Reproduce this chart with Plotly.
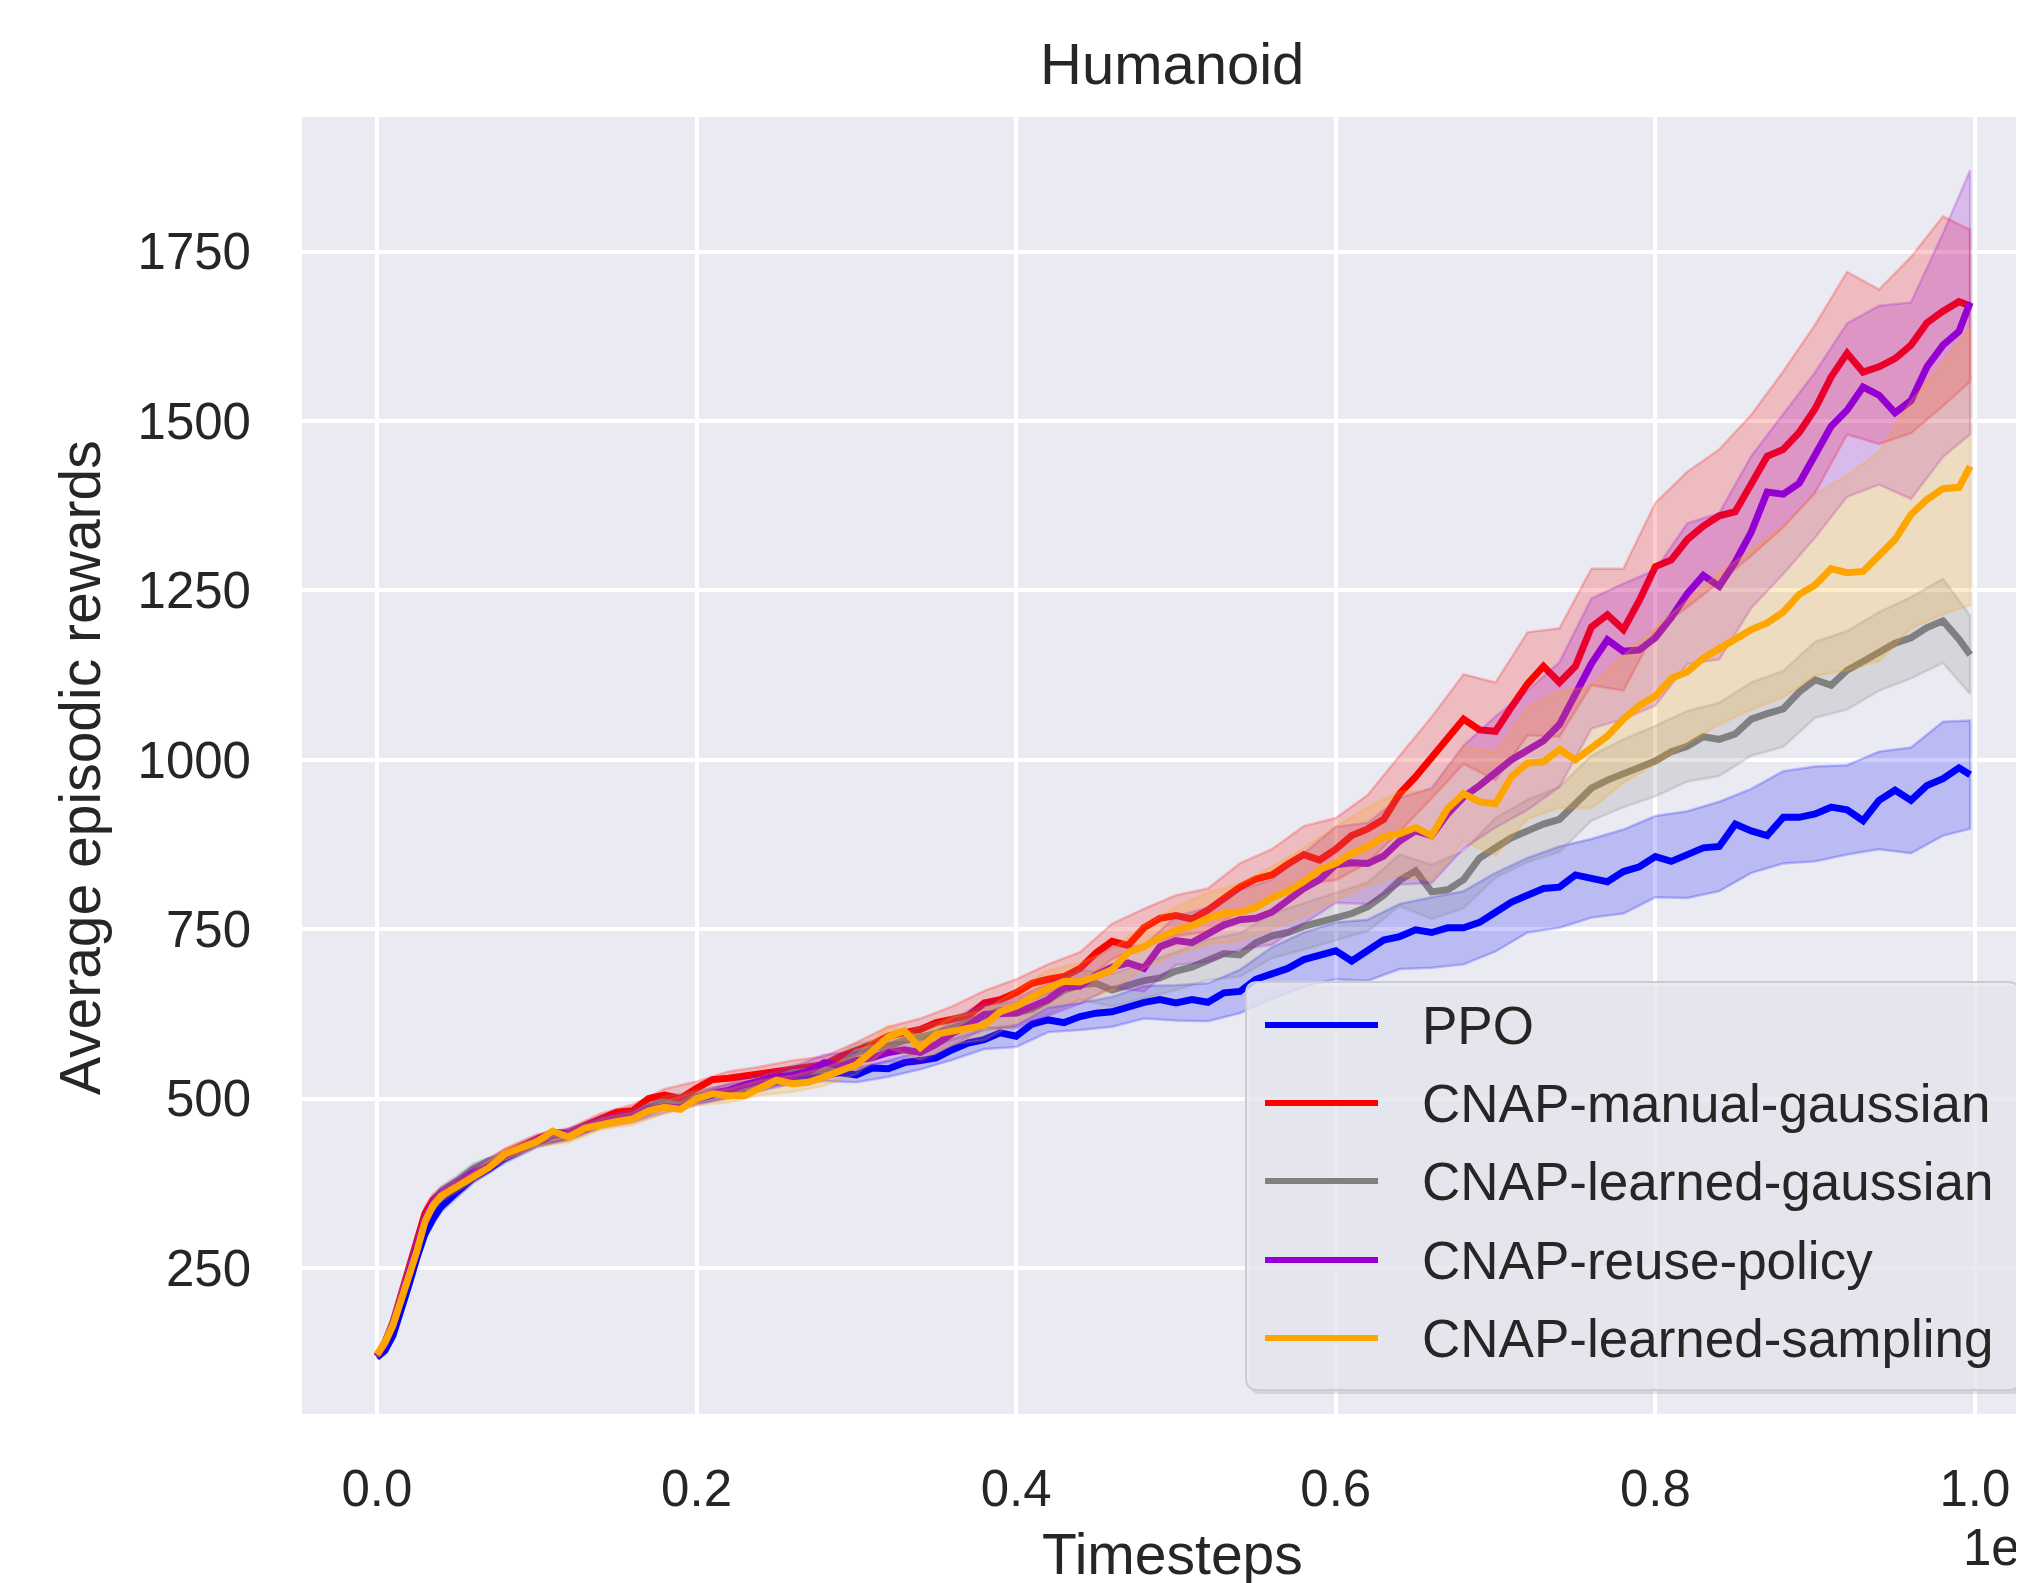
import plotly.graph_objects as go

# ---------------- data ----------------
# timesteps in thousands (axis shown in units of 1e6)
T_K = [0, 5, 10, 15, 20, 25, 30, 35, 40,
       50, 60, 70, 80, 90, 100, 110, 120, 130, 140,
       150, 160, 170, 180, 190, 200, 210, 220, 230, 240,
       250, 260, 270, 280, 290, 300, 310, 320, 330, 340,
       350, 360, 370, 380, 390, 400, 410, 420, 430, 440,
       450, 460, 470, 480, 490, 500, 510, 520, 530, 540,
       550, 560, 570, 580, 590, 600, 610, 620, 630, 640,
       650, 660, 670, 680, 690, 700, 710, 720, 730, 740,
       750, 760, 770, 780, 790, 800, 810, 820, 830, 840,
       850, 860, 870, 880, 890, 900, 910, 920, 930, 940,
       950, 960, 970, 980, 990, 997]

PPO = [118, 128, 150, 185, 225, 265, 300, 322, 340,
       362, 382, 396, 412, 424, 434, 446, 448, 456, 464,
       470, 476, 486, 492, 494, 500, 505, 508, 514, 520,
       524, 530, 532, 536, 538, 535, 545, 544, 553, 556,
       560, 572, 582, 587, 597, 592, 610, 616, 612, 621,
       626, 628, 636, 642, 646, 641, 646, 642, 656, 658,
       676, 685, 692, 705, 712, 718, 703, 719, 734, 739,
       749, 745, 752, 752, 760, 775, 790, 800, 810, 812,
       830, 825, 820, 835, 842, 857, 850, 860, 870, 872,
       905, 895, 888, 915, 915, 920, 930, 926, 910, 940,
       955, 940, 962, 972, 988, 978]

MANUAL = [120, 140, 170, 210, 250, 292, 330, 350, 360,
          374, 388, 400, 418, 430, 440, 450, 448, 460, 470,
          480, 482, 500, 505, 500, 515, 528, 530, 533, 536,
          539, 544, 547, 550, 562, 570, 580, 592, 596, 602,
          612, 618, 622, 641, 646, 656, 670, 676, 680, 692,
          715, 732, 726, 752, 766, 770, 765, 778, 796, 812,
          824, 830, 846, 860, 852, 868, 888, 898, 912, 950,
          975, 1003, 1028, 1060, 1044, 1042, 1078, 1112, 1138, 1114,
          1138, 1196, 1214, 1192, 1235, 1285, 1295, 1325, 1345, 1360,
          1366, 1405, 1448, 1458, 1483, 1518, 1565, 1600, 1572, 1580,
          1592, 1612, 1645, 1662, 1676, 1670]

LEARNED_GAUSS = [120, 140, 168, 205, 245, 285, 322, 345, 362,
                 378, 396, 408, 414, 424, 436, 448, 446, 458, 464,
                 468, 474, 488, 494, 490, 502, 508, 510, 516, 522,
                 530, 538, 540, 542, 550, 568, 574, 577, 586, 590,
                 596, 604, 612, 620, 630, 626, 632, 645, 660, 668,
                 670, 660, 668, 674, 678, 688, 694, 705, 714, 712,
                 730, 740, 745, 754, 760, 768, 773, 783, 800, 822,
                 836, 805, 808, 823, 855, 870, 885, 895, 905, 912,
                 935, 958, 970, 980, 990, 998, 1012, 1020, 1034, 1030,
                 1038, 1060, 1068, 1075, 1100, 1118, 1110, 1132, 1145, 1160,
                 1172, 1180, 1195, 1205, 1178, 1155]

REUSE = [120, 138, 165, 205, 245, 285, 322, 346, 360,
         374, 390, 400, 416, 426, 438, 450, 447, 456, 466,
         470, 474, 484, 488, 486, 500, 508, 512, 520, 526,
         532, 534, 540, 553, 548, 556, 560, 568, 572, 568,
         580, 596, 608, 624, 626, 626, 636, 646, 664, 666,
         682, 694, 700, 692, 724, 733, 730, 742, 756, 764,
         766, 775, 792, 810, 823, 845, 848, 847, 858, 880,
         895, 888, 920, 945, 962, 982, 1000, 1014, 1028, 1052,
         1095, 1142, 1177, 1160, 1162, 1180, 1210, 1245, 1272, 1256,
         1292, 1336, 1395, 1392, 1408, 1450, 1492, 1516, 1550, 1538,
         1512, 1530, 1580, 1612, 1632, 1675]

SAMPLING = [122, 140, 165, 200, 235, 275, 318, 342, 356,
            370, 384, 398, 418, 426, 436, 452, 443, 456, 462,
            466, 470, 482, 487, 484, 500, 507, 504, 504, 516,
            527, 522, 524, 532, 540, 550, 570, 591, 600, 575,
            595, 600, 604, 608, 628, 636, 650, 663, 673, 672,
            680, 690, 716, 724, 738, 748, 755, 766, 773, 775,
            782, 796, 806, 820, 838, 847, 862, 872, 886, 891,
            900, 888, 928, 950, 938, 935, 975, 995, 997, 1015,
            1000, 1018, 1035, 1060, 1080, 1094, 1120, 1130, 1150, 1164,
            1178, 1192, 1202, 1218, 1244, 1258, 1282, 1276, 1278, 1300,
            1325, 1362, 1384, 1400, 1402, 1433]

# shaded spread (half width) sampled on a coarser grid
BAND_T_K = [0, 5, 10, 15, 20, 25, 30, 35, 40, 50, 60,
            80, 100, 120, 140, 160, 180, 200, 220, 240, 260,
            280, 300, 320, 340, 360, 380, 400, 420, 440, 460,
            480, 500, 520, 540, 560, 580, 600, 620, 640, 660,
            680, 700, 720, 740, 760, 780, 800, 820, 840, 860,
            880, 900, 920, 940, 960, 980, 997]

PPO_STD = [3, 4, 5, 6, 7, 8, 8, 8, 8, 8, 7,
           7, 6, 7, 6, 7, 8, 7, 8, 9, 8,
           10, 11, 12, 13, 15, 14, 16, 18, 20, 22,
           24, 26, 28, 32, 38, 40, 42, 45, 48, 52,
           54, 58, 55, 60, 58, 62, 60, 64, 66, 62,
           68, 70, 66, 72, 78, 84, 80]

MANUAL_STD = [3, 4, 6, 8, 9, 10, 10, 9, 8, 8, 8,
              8, 7, 8, 8, 9, 9, 10, 10, 11, 12,
              12, 13, 14, 16, 18, 18, 20, 22, 24, 26,
              28, 30, 32, 35, 38, 42, 46, 50, 56, 60,
              66, 72, 76, 80, 86, 90, 94, 100, 98, 104,
              115, 124, 120, 114, 130, 140, 112]

LEARNED_GAUSS_STD = [3, 4, 6, 8, 9, 10, 10, 9, 8, 8, 8,
                     8, 7, 8, 8, 9, 9, 10, 10, 10, 11,
                     12, 13, 14, 15, 16, 17, 18, 20, 22, 24,
                     26, 28, 30, 32, 33, 34, 35, 36, 38, 40,
                     42, 44, 46, 48, 48, 50, 52, 52, 54, 54,
                     56, 56, 58, 58, 60, 62, 58]

REUSE_STD = [3, 4, 6, 8, 9, 10, 10, 9, 8, 8, 8,
             8, 7, 8, 8, 9, 9, 10, 10, 11, 12,
             12, 13, 14, 16, 18, 20, 22, 24, 26, 30,
             34, 36, 40, 44, 48, 52, 56, 60, 64, 70,
             76, 82, 88, 92, 96, 100, 100, 104, 108, 112,
             118, 122, 128, 132, 145, 165, 195]

SAMPLING_STD = [3, 4, 6, 8, 9, 10, 10, 9, 8, 8, 8,
                8, 7, 8, 8, 9, 9, 10, 10, 11, 12,
                13, 14, 16, 18, 20, 22, 24, 26, 28, 30,
                32, 35, 38, 42, 46, 50, 54, 58, 62, 66,
                70, 76, 82, 86, 90, 94, 100, 106, 112, 118,
                126, 134, 144, 154, 168, 185, 205]

NAMES = ["PPO", "CNAP-manual-gaussian", "CNAP-learned-gaussian",
         "CNAP-reuse-policy", "CNAP-learned-sampling"]
MEANS = [PPO, MANUAL, LEARNED_GAUSS, REUSE, SAMPLING]
STDS = [PPO_STD, MANUAL_STD, LEARNED_GAUSS_STD, REUSE_STD, SAMPLING_STD]
COLORS = [(0, 0, 255), (255, 0, 0), (128, 128, 128), (148, 0, 211), (255, 165, 0)]

X_TICKS = [0.0, 0.2, 0.4, 0.6, 0.8, 1.0]
Y_TICKS = [250, 500, 750, 1000, 1250, 1500, 1750]

# ---------------- layout geometry ----------------
# the page body adds an 8px margin, so the figure is drawn 8px smaller
# and every page-pixel position below is shifted by OFF.
OFF = 8
W, H = 2024 - OFF, 1583 - OFF
L, R = 302 - OFF, 0
T = 117 - OFF
B = H - (1414 - OFF)
PW, PH = W - L - R, H - T - B
FONT = "Liberation Sans, Arial, Helvetica, sans-serif"
TXT = "#262626"


def px(X):
    return (X - OFF - L) / PW


def py(Y):
    return (H - B - (Y - OFF)) / PH


def rgba(c, a):
    return f"rgba({c[0]},{c[1]},{c[2]},{a})"


fig = go.Figure()
xs = [t / 1000 for t in T_K]
bx = [t / 1000 for t in BAND_T_K]
for name, mean, std, col in zip(NAMES, MEANS, STDS, COLORS):
    lookup = dict(zip(T_K, mean))
    hi = [lookup[t] + s for t, s in zip(BAND_T_K, std)]
    lo = [lookup[t] - s for t, s in zip(BAND_T_K, std)]
    fig.add_trace(go.Scatter(x=xs, y=mean, mode="lines", name=name,
                             line=dict(color=rgba(col, 1), width=7),
                             showlegend=False, hoverinfo="skip"))
    fig.add_trace(go.Scatter(x=bx + bx[::-1], y=hi + lo[::-1], mode="lines",
                             fill="toself", fillcolor=rgba(col, 0.2),
                             line=dict(color=rgba(col, 0.22), width=2.5),
                             showlegend=False, hoverinfo="skip"))

fig.update_layout(
    width=W, height=H,
    margin=dict(l=L, r=R, t=T, b=B, autoexpand=False),
    paper_bgcolor="white", plot_bgcolor="#EAEAF2",
    font=dict(family=FONT, color=TXT, size=51),
    showlegend=False,
)
fig.update_xaxes(range=[-0.0469, 1.0307], tickvals=X_TICKS,
                 ticktext=[f"{v:.1f}" for v in X_TICKS],
                 showgrid=True, gridcolor="white", gridwidth=3.5,
                 zeroline=False, showline=False, ticks="",
                 tickfont=dict(size=51, family=FONT, color=TXT),
                 ticklabelstandoff=40)
fig.update_yaxes(range=[34.4, 1948.6], tickvals=Y_TICKS,
                 ticktext=[str(v) for v in Y_TICKS],
                 showgrid=True, gridcolor="white", gridwidth=3.5,
                 zeroline=False, showline=False, ticks="",
                 tickfont=dict(size=51, family=FONT, color=TXT),
                 ticklabelstandoff=50)

ann = []
ann.append(dict(text="Humanoid", x=px(1172), y=py(64), xref="paper", yref="paper",
                xanchor="center", yanchor="middle", showarrow=False,
                font=dict(size=58, family=FONT, color=TXT)))
ann.append(dict(text="Timesteps", x=px(1172), y=py(1554), xref="paper", yref="paper",
                xanchor="center", yanchor="middle", showarrow=False,
                font=dict(size=57, family=FONT, color=TXT)))
ann.append(dict(text="1e6", x=px(1961), y=py(1547), xref="paper", yref="paper",
                xanchor="left", yanchor="middle", showarrow=False,
                font=dict(size=51, family=FONT, color=TXT)))
ann.append(dict(text="Average episodic rewards", x=px(80), y=py(768), xref="paper",
                yref="paper", xanchor="center", yanchor="middle", textangle=-90,
                showarrow=False, font=dict(size=57, family=FONT, color=TXT)))

# legend drawn as shapes + text
shapes = []
bx0, bx1, by0, by1 = 1246, 2020, 982, 1390
rx, ry = 12 / PW, 12 / PH


def rounded(X0, Y0, X1, Y1):
    x0, x1, yt, yb = px(X0), px(X1), py(Y0), py(Y1)
    return (f"M {x0+rx},{yt} L {x1-rx},{yt} Q {x1},{yt} {x1},{yt-ry} "
            f"L {x1},{yb+ry} Q {x1},{yb} {x1-rx},{yb} L {x0+rx},{yb} "
            f"Q {x0},{yb} {x0},{yb+ry} L {x0},{yt-ry} Q {x0},{yt} {x0+rx},{yt} Z")


shapes.append(dict(type="path", xref="paper", yref="paper",
                   path=rounded(bx0 + 3, by0 + 4, bx1 + 3, by1 + 4),
                   fillcolor="rgba(0,0,0,0.10)", line=dict(width=0), layer="above"))
shapes.append(dict(type="path", xref="paper", yref="paper",
                   path=rounded(bx0, by0, bx1, by1),
                   fillcolor="rgba(234,234,242,0.8)",
                   line=dict(color="#cccccc", width=2), layer="above"))
rows = [1025, 1103, 1181, 1260, 1338]
for name, col, ry_ in zip(NAMES, COLORS, rows):
    shapes.append(dict(type="line", xref="paper", yref="paper",
                       x0=px(1265), x1=px(1378), y0=py(ry_), y1=py(ry_),
                       line=dict(color=rgba(col, 1), width=6), layer="above"))
    ann.append(dict(text=name, x=px(1420), y=py(ry_), xref="paper", yref="paper",
                    xanchor="left", yanchor="middle", showarrow=False,
                    font=dict(size=53, family=FONT, color=TXT)))

fig.update_layout(annotations=ann, shapes=shapes)
fig.write_html("out.html")
